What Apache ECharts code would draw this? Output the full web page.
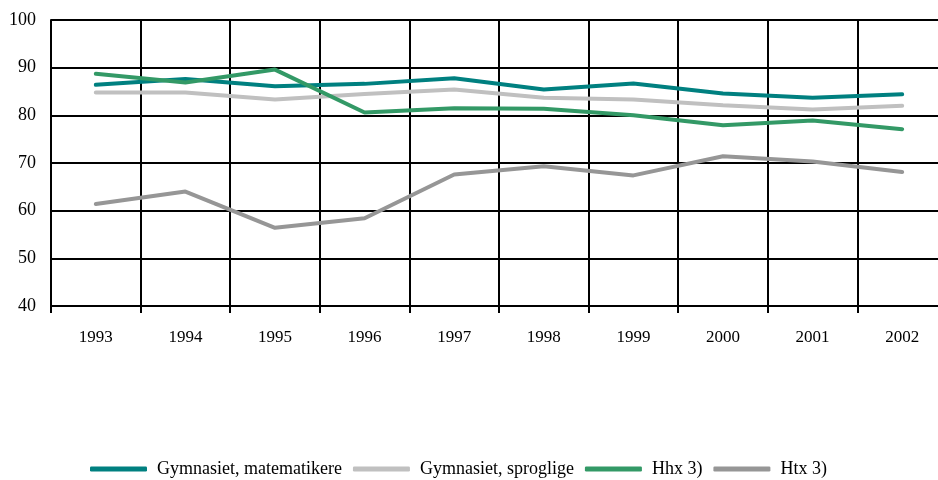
<!DOCTYPE html>
<html>
<head>
<meta charset="utf-8">
<script src="https://cdn.jsdelivr.net/npm/echarts@6/dist/echarts.min.js"></script>
<style>
html, body { margin: 0; padding: 0; background: #fff; overflow: hidden; }
#main { width: 947px; height: 480px; }
</style>
</head>
<body>
<div id="main"></div>
<script>
var years = ['1993', '1994', '1995', '1996', '1997', '1998', '1999', '2000', '2001', '2002'];
var matematikere = [86.4, 87.6, 86.1, 86.6, 87.8, 85.4, 86.7, 84.6, 83.7, 84.4];
var sproglige = [84.8, 84.8, 83.3, 84.5, 85.4, 83.7, 83.3, 82.1, 81.2, 82.0];
var hhx = [88.7, 86.9, 89.6, 80.6, 81.5, 81.4, 80.0, 77.9, 78.9, 77.1];
var htx = [61.4, 64.0, 56.4, 58.4, 67.6, 69.3, 67.4, 71.4, 70.3, 68.1];

var names = ['Gymnasiet, matematikere', 'Gymnasiet, sproglige', 'Hhx 3)', 'Htx 3)'];
var colors = ['#008080', '#c0c0c0', '#339966', '#969696'];

var chartDom = document.getElementById('main');
var myChart = echarts.init(chartDom);

function makeSeries(name, data, color) {
    return {
        name: name,
        type: 'line',
        data: data,
        symbol: 'none',
        smooth: false,
        lineStyle: { color: color, width: 4, cap: 'round' },
        itemStyle: { color: color }
    };
}

var option = {
    animation: false,
    textStyle: { fontFamily: 'Liberation Serif', color: '#000' },
    legend: {
        top: 455,
        left: 85,
        itemWidth: 57,
        itemHeight: 5,
        itemGap: 11,
        icon: 'roundRect',
        textStyle: { fontFamily: 'Liberation Serif', fontSize: 18, color: '#000', padding: [13, 0, 0, 5] },
        data: names
    },
    grid: {
        left: 51,
        right: 0,
        top: 20,
        bottom: 174
    },
    xAxis: {
        type: 'category',
        data: years,
        boundaryGap: true,
        axisLine: { lineStyle: { color: '#000', width: 2 } },
        axisTick: { show: true, length: 7, interval: 0, lineStyle: { color: '#000', width: 2 } },
        splitLine: { show: true, interval: 0, lineStyle: { color: '#000', width: 2 } },
        axisLabel: { margin: 23, fontSize: 17, color: '#000', fontFamily: 'Liberation Serif' }
    },
    yAxis: {
        type: 'value',
        min: 40,
        max: 100,
        interval: 10,
        axisLine: { show: true, lineStyle: { color: '#000', width: 2 } },
        axisTick: { show: false },
        splitLine: { show: true, lineStyle: { color: '#000', width: 2 } },
        axisLabel: { margin: 15, fontSize: 18, color: '#000', fontFamily: 'Liberation Serif' }
    },
    series: [
        makeSeries(names[0], matematikere, colors[0]),
        makeSeries(names[1], sproglige, colors[1]),
        makeSeries(names[2], hhx, colors[2]),
        makeSeries(names[3], htx, colors[3])
    ]
};

myChart.setOption(option);
</script>
</body>
</html>
